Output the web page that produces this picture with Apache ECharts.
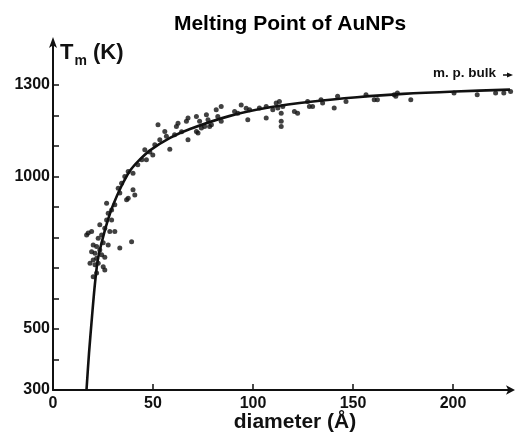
<!DOCTYPE html>
<html><head><meta charset="utf-8">
<script src="https://cdn.jsdelivr.net/npm/echarts@6/dist/echarts.min.js"></script>
<style>html,body{margin:0;padding:0;background:#fff}#c{width:515px;height:434px}</style>
</head><body><div id="c"></div>
<script>
const chartTitle = 'Melting Point of AuNPs';
const xLabelValues = [0, 50, 100, 150, 200];
const yTickValues = [300, 400, 500, 600, 700, 800, 900, 1000, 1100, 1200, 1300];
const yLabelValues = [300, 500, 1000, 1300];

// measured points: diameter (Å) and melting temperature (K)
const pointD = [16.8,17.6,19.3,18.5,19.3,20.1,21.0,21.8,23.4,24.3,21.8,25.9,20.1,22.6,25.1,25.9,20.1,21.8,21.0,24.3,
  22.6,23.4,25.9,28.4,30.9,26.8,29.3,27.6,29.3,30.9,26.8,33.4,32.6,34.3,35.9,37.6,40.0,40.0,40.9,39.3,
  33.4,36.8,37.6,27.6,25.1,42.4,44.4,46.7,48.4,45.9,50.9,53.4,49.9,52.5,55.9,56.7,58.4,62.5,61.7,67.5,
  66.7,71.7,73.3,76.7,77.5,79.2,81.6,84.1,82.4,84.1,67.5,71.7,72.5,74.2,75.8,78.3,60.8,64.3,90.8,92.4,
  94.1,96.6,97.4,98.3,103.2,106.6,106.6,109.9,112.4,111.6,113.2,114.9,114.1,114.1,114.1,120.7,122.3,127.3,128.2,129.8,
  134.0,134.8,140.6,142.3,146.5,156.5,160.6,162.2,170.6,172.2,171.4,178.9,200.5,212.1,221.3,225.4,228.8];
const pointT = [808,814,819,715,753,775,748,770,759,743,732,735,726,715,704,693,671,683,710,808,
  797,841,830,819,819,857,857,879,890,907,912,945,961,977,999,1016,1010,956,939,786,
  765,923,928,775,782,1038,1054,1054,1080,1087,1103,1120,1070,1169,1147,1131,1089,1174,1163,1191,
  1180,1196,1180,1202,1185,1169,1218,1229,1196,1180,1120,1147,1142,1158,1163,1163,1136,1146,1212,1207,
  1234,1223,1185,1218,1224,1229,1191,1218,1224,1240,1245,1229,1207,1180,1163,1212,1207,1245,1229,1229,
  1251,1240,1224,1262,1245,1267,1251,1251,1267,1273,1262,1251,1273,1267,1273,1273,1278];

// fitted curve as drawn
const curveD = [16.75,18,19.5,21,22.5,25,27.5,30,34,38.5,43,48.5,58.5,68.5,88.5,108.5,130,152,175,201,228.5];
const curveT = [300,420,540,650,730,800,858,905,965,1018,1052,1085,1126,1155,1198,1226,1245,1259,1270,1278,1284];

const ink = '#111';
const font = '"Liberation Sans", Arial, sans-serif';

const chart = echarts.init(document.getElementById('c'));
chart.setOption({
  animation: false,
  backgroundColor: '#fff',
  title: {
    text: chartTitle, left: 285, top: 9, textAlign: 'center',
    textStyle: { fontFamily: font, fontSize: 21, fontWeight: 'bold', color: '#000' }
  },
  grid: { left: 53, right: 4, top: 42, bottom: 44 },
  xAxis: {
    type: 'value', min: 0, max: 229, interval: 50,
    axisLine: { lineStyle: { color: ink, width: 2 }, symbol: ['none', 'arrow'], symbolSize: [7, 9], symbolOffset: [0, 4] },
    axisTick: { inside: true, length: 6, lineStyle: { color: ink, width: 1.5 }, customValues: xLabelValues },
    axisLabel: { customValues: xLabelValues, formatter: v => String(v), margin: 6, color: ink, fontFamily: font, fontSize: 16, fontWeight: 'bold' },
    splitLine: { show: false }
  },
  yAxis: {
    type: 'value', min: 300, max: 1440, interval: 100,
    axisLine: { lineStyle: { color: ink, width: 2 }, symbol: ['none', 'arrow'], symbolSize: [6, 11], symbolOffset: [0, 5] },
    axisTick: { inside: true, length: 6, lineStyle: { color: ink, width: 1.5 }, customValues: yTickValues },
    axisLabel: { customValues: yLabelValues, formatter: v => String(v), margin: 3, color: ink, fontFamily: font, fontSize: 16, fontWeight: 'bold' },
    splitLine: { show: false }
  },
  series: [
    {
      type: 'line', data: curveD.map((d, i) => [d, curveT[i]]),
      smooth: 0.3, symbol: 'none', lineStyle: { color: ink, width: 2.6 }, z: 3
    },
    {
      type: 'scatter', data: pointD.map((d, i) => [d, pointT[i]]),
      symbol: 'circle', symbolSize: 5, itemStyle: { color: ink }, z: 4
    }
  ],
  graphic: [
    {
      type: 'text', left: 60, top: 42,
      style: {
        text: '{a|T}{b|m}{a| (K)}',
        rich: {
          a: { fontFamily: font, fontSize: 22, fontWeight: 'bold', fill: ink, lineHeight: 26, verticalAlign: 'bottom' },
          b: { fontFamily: font, fontSize: 14, fontWeight: 'bold', fill: ink, lineHeight: 26, verticalAlign: 'bottom', padding: [0, 0, -4, 1] }
        }
      }
    },
    {
      type: 'text', x: 295, y: 422,
      style: { text: 'diameter (Å)', align: 'center', verticalAlign: 'middle', fontFamily: font, fontSize: 21, fontWeight: 'bold', fill: ink }
    },
    {
      type: 'text', x: 433, y: 73,
      style: { text: 'm. p. bulk', align: 'left', verticalAlign: 'middle', fontFamily: font, fontSize: 13.5, fontWeight: 'bold', fill: ink }
    },
    {
      type: 'line', shape: { x1: 503, y1: 75, x2: 509, y2: 75 }, style: { stroke: ink, lineWidth: 1.5 }
    },
    {
      type: 'polygon', shape: { points: [[513, 75], [507, 72.5], [507, 77.5]] }, style: { fill: ink }
    }
  ]
});
</script>
</body></html>
